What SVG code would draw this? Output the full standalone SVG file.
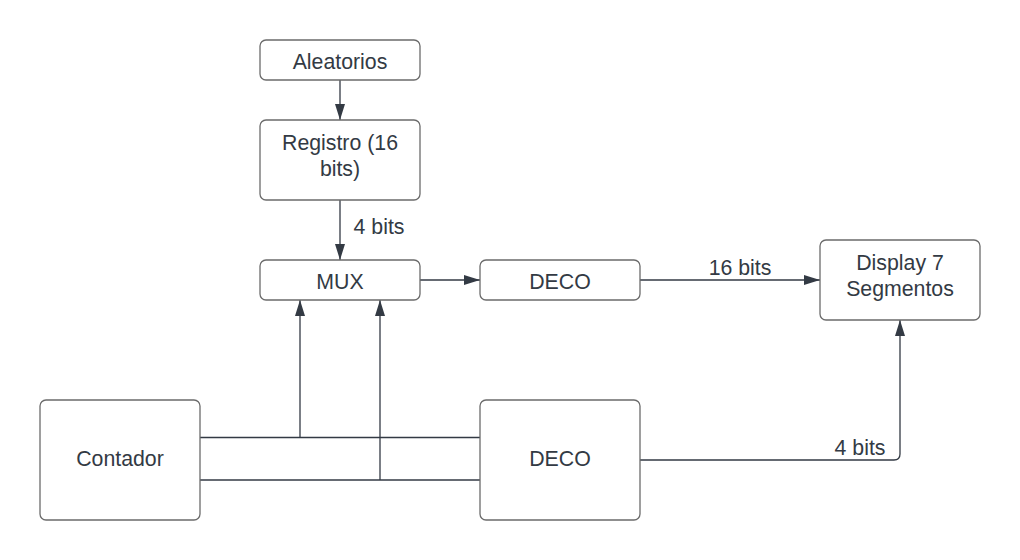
<svg xmlns="http://www.w3.org/2000/svg" width="1020" height="560" viewBox="0 0 1020 560">
<style>
.box{fill:#ffffff;stroke:#6b6b6b;stroke-width:1.3}
.t{font-family:"Liberation Sans",Arial,sans-serif;font-size:21.3px;fill:#333a44;text-anchor:middle}
.c{fill:none;stroke:#333a44;stroke-width:1.3}
</style>
<defs>
<marker id="ah" viewBox="0 0 16 10" refX="16" refY="5" markerWidth="16" markerHeight="10" markerUnits="userSpaceOnUse" orient="auto">
<path d="M0,0 L16,5 L0,10 Z" fill="#333a44"/>
</marker>
</defs>
<rect width="1020" height="560" fill="#ffffff"/>
<g id="connectors">
<path class="c" d="M340,80 V120" marker-end="url(#ah)"/>
<path class="c" d="M340,200 V260" marker-end="url(#ah)"/>
<path class="c" d="M420,280 H480" marker-end="url(#ah)"/>
<path class="c" d="M640,280 H820" marker-end="url(#ah)"/>
<path class="c" d="M200,437.5 H480"/>
<path class="c" d="M200,480 H480"/>
<path class="c" d="M300,437.5 V300" marker-end="url(#ah)"/>
<path class="c" d="M380,480 V300" marker-end="url(#ah)"/>
<path class="c" d="M640,460 H894 Q900,460 900,454 V320" marker-end="url(#ah)"/>
<text class="t" x="379" y="234">4 bits</text>
<text class="t" x="740" y="275">16 bits</text>
<text class="t" x="860" y="455">4 bits</text>
</g>
<g id="aleatorios">
<rect class="box" x="260" y="40" width="160" height="40" rx="6"/>
<text class="t" x="340" y="69">Aleatorios</text>
</g>
<g id="registro">
<rect class="box" x="260" y="120" width="160" height="80" rx="6"/>
<text class="t" x="340" y="150">Registro (16</text>
<text class="t" x="340" y="176">bits)</text>
</g>
<g id="mux">
<rect class="box" x="260" y="260" width="160" height="40" rx="6"/>
<text class="t" x="340" y="289">MUX</text>
</g>
<g id="deco1">
<rect class="box" x="480" y="260" width="160" height="40" rx="6"/>
<text class="t" x="560" y="289">DECO</text>
</g>
<g id="display">
<rect class="box" x="820" y="240" width="160" height="80" rx="6"/>
<text class="t" x="900" y="270">Display 7</text>
<text class="t" x="900" y="296">Segmentos</text>
</g>
<g id="contador">
<rect class="box" x="40" y="400" width="160" height="120" rx="6"/>
<text class="t" x="120" y="466">Contador</text>
</g>
<g id="deco2">
<rect class="box" x="480" y="400" width="160" height="120" rx="6"/>
<text class="t" x="560" y="466">DECO</text>
</g>
</svg>
